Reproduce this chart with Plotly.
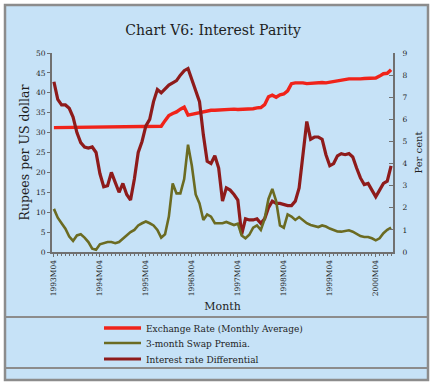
import plotly.graph_objects as go

# ---------------- data ----------------
months = list(range(89))  # 1993M04 .. 2000M08
tick_positions = [0, 12, 24, 36, 48, 60, 72, 84]
tick_labels = ["1993M04", "1994M04", "1995M04", "1996M04",
               "1997M04", "1998M04", "1999M04", "2000M04"]

exchange_rate = [
    31.24, 31.25, 31.26, 31.30, 31.35, 31.37, 31.37, 31.37, 31.37, 31.37,
    31.37, 31.37, 31.37, 31.37, 31.37, 31.37, 31.37, 31.37, 31.37, 31.37,
    31.37, 31.37, 31.37, 31.37, 31.38, 31.38, 31.39, 31.40, 31.60, 33.00,
    34.30, 34.80, 35.20, 35.90, 36.40, 34.40, 34.60, 35.00, 35.20, 35.40,
    35.60, 35.60, 35.60, 35.70, 35.80, 35.90, 35.90, 35.90, 35.80, 35.80,
    35.80, 35.80, 36.00, 36.20, 36.30, 37.00, 39.00, 39.40, 38.90, 39.50,
    39.70, 40.50, 42.30, 42.50, 42.60, 42.50, 42.30, 42.40, 42.60, 42.60,
    42.60, 42.50, 42.70, 42.90, 43.10, 43.20, 43.40, 43.50, 43.50, 43.40,
    43.50, 43.60, 43.60, 43.60, 43.70, 44.20, 44.80, 44.90, 45.80,
]

swap_premia = [
    1.95, 1.55, 1.30, 1.05, 0.70, 0.50, 0.75, 0.80, 0.65, 0.45,
    0.15, 0.10, 0.35, 0.40, 0.45, 0.45, 0.40, 0.45, 0.60, 0.75,
    0.90, 1.00, 1.20, 1.30, 1.38, 1.30, 1.20, 1.00, 0.65, 0.80,
    1.60, 3.10, 2.65, 2.65, 3.30, 4.85, 3.90, 2.60, 2.20, 1.45,
    1.70, 1.60, 1.30, 1.30, 1.30, 1.36, 1.30, 1.22, 1.28, 0.75,
    0.62, 0.78, 1.10, 1.20, 1.00, 1.50, 2.40, 2.85, 2.30, 1.20,
    1.10, 1.70, 1.60, 1.45, 1.58, 1.44, 1.30, 1.22, 1.18, 1.13,
    1.20, 1.15, 1.06, 0.98, 0.93, 0.92, 0.95, 0.98, 0.92, 0.80,
    0.72, 0.68, 0.68, 0.62, 0.53, 0.62, 0.85, 1.00, 1.10,
]

interest_differential = [
    7.70, 6.90, 6.65, 6.65, 6.50, 6.10, 5.40, 4.95, 4.75, 4.70,
    4.75, 4.50, 3.55, 2.95, 3.00, 3.60, 3.15, 2.70, 3.10, 2.60,
    2.35, 3.30, 4.50, 5.00, 5.70, 6.00, 6.80, 7.35, 7.20, 7.40,
    7.55, 7.65, 7.75, 8.00, 8.20, 8.30, 7.80, 7.30, 6.80, 5.30,
    4.10, 4.00, 4.35, 3.80, 2.30, 2.90, 2.80, 2.60, 2.35, 0.80,
    1.50, 1.45, 1.45, 1.50, 1.30, 1.50, 2.00, 2.30, 2.20, 2.20,
    2.15, 2.10, 2.10, 2.30, 2.90, 4.30, 5.90, 5.10, 5.20, 5.20,
    5.10, 4.40, 3.90, 4.00, 4.35, 4.45, 4.40, 4.45, 4.30, 3.80,
    3.35, 3.05, 3.10, 2.80, 2.50, 2.80, 3.10, 3.20, 3.90,
]

# ---------------- style ----------------
BG = "#C6E2F7"
FRAME = "#8C8C8C"
SERIF = "DejaVu Serif"
AXC = "#707070"
TXT = "#1E1E1E"

PL, PR, PT, PB = 52, 42, 53, 134
W, H = 435, 386
PW, PH = W - PL - PR, H - PT - PB


def px_x(px):
    return (px - PL) / PW


def px_y(py):
    return (H - PB - py) / PH


fig = go.Figure()

fig.add_trace(go.Scatter(
    x=months, y=interest_differential, name="Interest rate Differential",
    mode="lines", line=dict(color="#8E1B1B", width=3.2), yaxis="y2",
    legend="legend3"))
fig.add_trace(go.Scatter(
    x=months, y=swap_premia, name="3-month Swap Premia.",
    mode="lines", line=dict(color="#6B6B22", width=2.6), yaxis="y2",
    legend="legend2"))
fig.add_trace(go.Scatter(
    x=months, y=exchange_rate, name="Exchange Rate (Monthly Average)",
    mode="lines", line=dict(color="#F0231A", width=3.4), yaxis="y",
    legend="legend"))


def leg(ypx):
    return dict(x=px_x(99), y=px_y(ypx), xanchor="left", yanchor="middle",
                bgcolor="rgba(0,0,0,0)", itemwidth=37,
                font=dict(size=9, family=SERIF, color=TXT))


fig.update_layout(
    width=W, height=H,
    margin=dict(l=PL, r=PR, t=PT, b=PB, autoexpand=False),
    paper_bgcolor="white",
    plot_bgcolor="rgba(0,0,0,0)",
    font=dict(family=SERIF, size=8, color=TXT),
    title=dict(text="Chart V6: Interest Parity", x=0.49, xanchor="center",
               y=1 - 30 / H, yanchor="middle",
               font=dict(family=SERIF, size=14, color=TXT)),
    xaxis=dict(
        range=[-0.5, 88.5], tickmode="array", tickvals=tick_positions,
        ticktext=tick_labels, tickangle=-90, showgrid=False, zeroline=False,
        showline=True, linecolor=AXC, linewidth=2,
        ticks="outside", ticklen=3, tickcolor=AXC,
        minor=dict(dtick=1, ticks="outside", ticklen=2, tickcolor=AXC),
        tickfont=dict(size=7.5, family=SERIF),
        title=dict(text="Month", font=dict(size=11, family=SERIF), standoff=7),
    ),
    yaxis=dict(
        range=[0, 50], dtick=5, showgrid=False, zeroline=False,
        showline=True, linecolor=AXC, linewidth=2,
        ticks="outside", ticklen=3, tickcolor=AXC,
        tickfont=dict(size=7.5, family=SERIF),
        title=dict(text="Rupees per US dollar", font=dict(size=12.5, family=SERIF), standoff=4),
    ),
    yaxis2=dict(
        range=[0, 9], dtick=1, overlaying="y", side="right", showgrid=False,
        zeroline=False, showline=True, linecolor=AXC, linewidth=2,
        ticks="inside", ticklen=4, tickcolor=AXC, ticklabelstandoff=6,
        tickfont=dict(size=7.5, family=SERIF),
        title=dict(text="Per cent", font=dict(size=10, family=SERIF), standoff=8),
    ),
    showlegend=True,
    legend=leg(328),
    legend2=leg(343),
    legend3=leg(359),
    shapes=[
        dict(type="rect", xref="paper", yref="paper", layer="below",
             x0=px_x(5), x1=px_x(428), y0=px_y(380), y1=px_y(5),
             fillcolor=BG, line=dict(color=FRAME, width=2.5)),
        dict(type="line", xref="paper", yref="paper",
             x0=px_x(5), x1=px_x(428), y0=px_y(317), y1=px_y(317),
             line=dict(color=FRAME, width=2)),
        dict(type="line", xref="paper", yref="paper",
             x0=px_x(5), x1=px_x(428), y0=px_y(368), y1=px_y(368),
             line=dict(color=FRAME, width=2)),
    ],
)

fig.write_html(
    "out.html",
    config={"displayModeBar": False},
    post_script="document.body.style.margin='0';document.body.style.padding='0';",
)
